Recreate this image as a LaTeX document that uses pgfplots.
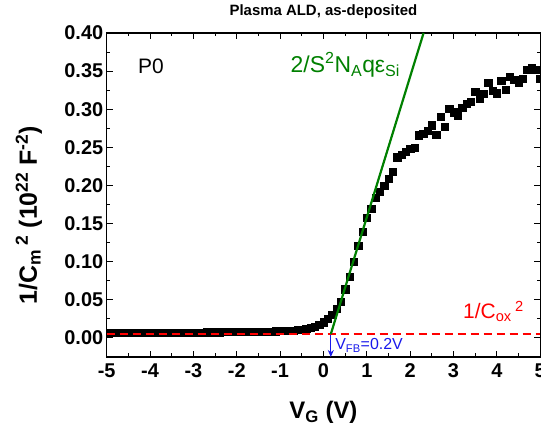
\documentclass[border=0pt]{standalone}
\usepackage{pgfplots}
\pgfplotsset{compat=1.18}
\usepackage{pgfplotstable}
\usepackage{fontspec}
\setmainfont{Liberation Sans}
\usetikzlibrary{arrows.meta}

\definecolor{fitgreen}{RGB}{0,128,0}
\definecolor{fbblue}{RGB}{25,25,235}
\definecolor{oxred}{RGB}{255,0,0}

% Mott-Schottky data: gate voltage (V) and 1/C^2 (10^22 F^-2)
\pgfplotstableread{
V invC2
-5.0 0.0068
-4.9 0.0068
-4.8 0.0068
-4.7 0.0069
-4.6 0.0069
-4.5 0.0069
-4.4 0.0069
-4.3 0.0070
-4.2 0.0070
-4.1 0.0070
-4.0 0.0070
-3.9 0.0071
-3.8 0.0071
-3.7 0.0071
-3.6 0.0071
-3.5 0.0072
-3.4 0.0072
-3.3 0.0072
-3.2 0.0073
-3.1 0.0073
-3.0 0.0073
-2.9 0.0074
-2.8 0.0074
-2.7 0.0075
-2.6 0.0075
-2.5 0.0076
-2.4 0.0076
-2.3 0.0077
-2.2 0.0077
-2.1 0.0078
-2.0 0.0078
-1.9 0.0079
-1.8 0.0080
-1.7 0.0081
-1.6 0.0082
-1.5 0.0083
-1.4 0.0084
-1.3 0.0085
-1.2 0.0087
-1.1 0.0088
-1.0 0.0090
-0.9 0.0092
-0.8 0.0095
-0.7 0.0099
-0.6 0.0104
-0.5 0.0111
-0.4 0.0121
-0.3 0.0134
-0.2 0.0151
-0.1 0.0175
0.0 0.0207
0.1 0.0250
0.2 0.0300
0.3 0.0380
0.4 0.0480
0.5 0.0640
0.6 0.0800
0.7 0.1000
0.8 0.1210
0.9 0.1390
1.0 0.1580
1.1 0.1700
1.2 0.1840
1.3 0.1920
1.4 0.2000
1.5 0.2090
1.6 0.2180
1.7 0.2370
1.8 0.2400
1.9 0.2440
2.0 0.2480
2.1 0.2500
2.2 0.2660
2.3 0.2680
2.4 0.2720
2.5 0.2790
2.6 0.2670
2.7 0.2900
2.8 0.2770
2.9 0.3010
3.0 0.2960
3.1 0.2920
3.2 0.3020
3.3 0.3070
3.4 0.3100
3.5 0.3230
3.6 0.3140
3.7 0.3200
3.8 0.3350
3.9 0.3240
4.0 0.3210
4.1 0.3370
4.2 0.3260
4.3 0.3430
4.4 0.3390
4.5 0.3350
4.6 0.3400
4.7 0.3520
4.8 0.3550
4.9 0.3520
5.0 0.3400
}\cvdata

\begin{document}
\begin{tikzpicture}
\begin{axis}[
  at={(0,0)}, anchor=south west,
  scale only axis, width=433.5bp, height=324bp,
  xmin=-5, xmax=5, ymin=-0.025, ymax=0.40,
  clip marker paths=true,
  xtick={-5,-4,-3,-2,-1,0,1,2,3,4,5},
  ytick={0,0.05,0.10,0.15,0.20,0.25,0.30,0.35,0.40},
  minor x tick num=1, minor y tick num=1,
  tick align=inside, tick pos=both,
  major tick length=6bp, minor tick length=3.5bp,
  every tick/.style={black, line width=0.9bp},
  axis line style={line width=1.1bp},
  /pgf/number format/assume math mode=true,
  tick label style={font=\fontsize{20}{24}\selectfont\bfseries},
  xticklabel style={yshift=-3bp},
  yticklabel style={/pgf/number format/.cd, fixed, fixed zerofill, precision=2},
  title={Plasma ALD, as-deposited},
  title style={font=\fontsize{15}{18}\selectfont\bfseries,
    at={(axis description cs:0.5,1.035)}, anchor=base},
  xlabel={V\textsubscript{G} (V)},
  xlabel style={font=\fontsize{24}{28}\selectfont\bfseries,
    at={(axis description cs:0.5,-0.191)}, anchor=base},
  ylabel={1/C\textsubscript{m}\,\textsuperscript{2} (10\textsuperscript{22} F\textsuperscript{-2})},
  ylabel style={font=\fontsize{25}{29}\selectfont\bfseries,
    at={(axis description cs:-0.161,0.438)}, anchor=base},
]
% measured curve
\addplot[only marks, mark=square*, mark size=3.6bp, black] table[x=V, y=invC2] {\cvdata};
% oxide capacitance level
\addplot[draw=oxred, line width=1.6bp, dash pattern=on 8bp off 5bp] coordinates {(-5,0.0055) (5,0.0055)};
% linear fit of the depletion region
\addplot[draw=fitgreen, line width=2.2bp] coordinates {(0.17,0.005) (2.31,0.40)};
% flat-band voltage marker
\addplot[draw=fbblue, fill=fbblue, line width=1.3bp, -{Stealth[length=7bp,width=6bp]}] coordinates {(0.17,0.004) (0.17,-0.025)};

\node[anchor=base west, inner sep=0, font=\fontsize{21}{25}\selectfont] at (axis cs:-4.28,0.347) {P0};
\node[anchor=base west, inner sep=0, text=fitgreen, font=\fontsize{23}{27}\selectfont] at (axis cs:-0.76,0.348)
  {2/S\textsuperscript{2}N\textsubscript{A}qε\textsubscript{Si}};
\node[anchor=base west, inner sep=0, text=oxred, font=\fontsize{21}{25}\selectfont] at (axis cs:3.22,0.025)
  {1/C\textsubscript{ox}\,\textsuperscript{2}};
\node[anchor=base west, inner sep=0, text=fbblue, font=\fontsize{16}{19}\selectfont] at (axis cs:0.27,-0.0158)
  {V\textsubscript{FB}=0.2V};
\end{axis}
\pgfresetboundingbox
\path[use as bounding box] (-106.7bp,-80bp) rectangle (434.3bp,357bp);
\end{tikzpicture}
\end{document}
